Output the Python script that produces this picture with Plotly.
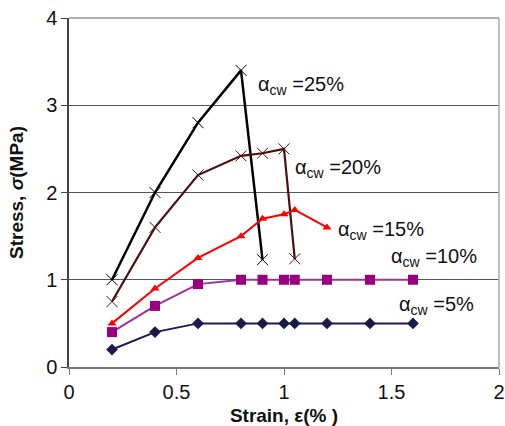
import plotly.graph_objects as go

# ---- data ----
strain_25 = [0.2, 0.4, 0.6, 0.8, 0.9]
stress_25 = [1.0, 2.0, 2.8, 3.4, 1.23]

strain_20 = [0.2, 0.4, 0.6, 0.8, 0.9, 1.0, 1.05]
stress_20 = [0.75, 1.6, 2.2, 2.42, 2.45, 2.5, 1.24]

strain_15 = [0.2, 0.4, 0.6, 0.8, 0.9, 1.0, 1.05, 1.2]
stress_15 = [0.5, 0.9, 1.25, 1.5, 1.7, 1.75, 1.8, 1.6]

strain_10 = [0.2, 0.4, 0.6, 0.8, 0.9, 1.0, 1.05, 1.2, 1.4, 1.6]
stress_10 = [0.4, 0.7, 0.95, 1.0, 1.0, 1.0, 1.0, 1.0, 1.0, 1.0]

strain_5 = [0.2, 0.4, 0.6, 0.8, 0.9, 1.0, 1.05, 1.2, 1.4, 1.6]
stress_5 = [0.2, 0.4, 0.5, 0.5, 0.5, 0.5, 0.5, 0.5, 0.5, 0.5]

series_labels = ["25%", "20%", "15%", "10%", "5%"]
x_ticks = [0, 0.5, 1, 1.5, 2]
x_tick_text = ["0", "0.5", "1", "1.5", "2"]
y_ticks = [0, 1, 2, 3, 4]

# ---- styling ----
FONT = "Liberation Sans, Arial, sans-serif"
label_pos = {"25%": (0.872, 3.23), "20%": (1.044, 2.27), "15%": (1.244, 1.57),
             "10%": (1.49, 1.25), "5%": (1.527, 0.71)}

fig = go.Figure()
fig.add_trace(go.Scatter(x=strain_25, y=stress_25, mode="lines+markers",
                         line=dict(color="#000000", width=2.5),
                         marker=dict(symbol="x-thin-open", size=11,
                                     line=dict(color="#9933CC", width=1))))
fig.add_trace(go.Scatter(x=strain_20, y=stress_20, mode="lines+markers",
                         line=dict(color="#4A1010", width=2.2),
                         marker=dict(symbol="x-thin-open", size=11,
                                     line=dict(color="#A04848", width=1))))
fig.add_trace(go.Scatter(x=strain_15, y=stress_15, mode="lines+markers",
                         line=dict(color="#FF0000", width=2),
                         marker=dict(symbol="triangle-up", size=8, color="#FF0000")))
fig.add_trace(go.Scatter(x=strain_10, y=stress_10, mode="lines+markers",
                         line=dict(color="#993399", width=2),
                         marker=dict(symbol="square", size=10, color="#990080")))
fig.add_trace(go.Scatter(x=strain_5, y=stress_5, mode="lines+markers",
                         line=dict(color="#1A1A55", width=2),
                         marker=dict(symbol="diamond", size=9, color="#1A1A4A")))

for lab in series_labels:
    x, y = label_pos[lab]
    fig.add_annotation(x=x, y=y, xref="x", yref="y", xanchor="left", yanchor="middle",
                       text="α<sub>cw</sub> =" + lab, showarrow=False,
                       font=dict(family=FONT, size=20, color="#111111"))

# top and right border of the plot area
fig.add_shape(type="line", xref="paper", yref="paper", x0=0, x1=1, y0=1, y1=1,
              line=dict(color="#666666", width=1.2))
fig.add_shape(type="line", xref="paper", yref="paper", x0=1, x1=1, y0=0, y1=1,
              line=dict(color="#AAAAAA", width=1.5))

fig.update_layout(
    width=505, height=426,
    margin=dict(l=69, r=6, t=18, b=59),
    paper_bgcolor="white", plot_bgcolor="white",
    showlegend=False,
    font=dict(family=FONT, size=20, color="#111111"),
    xaxis=dict(range=[0, 2], tickvals=x_ticks, ticktext=x_tick_text, automargin=False,
               ticklabeloverflow="allow",
               showgrid=False, zeroline=False, showline=True, linecolor="#777777", linewidth=1.5,
               ticks="outside", ticklen=6, tickcolor="#777777",
               tickfont=dict(size=20),
               title=dict(text="<b>Strain, ε(% )</b>", font=dict(size=19), standoff=7)),
    yaxis=dict(range=[0, 4], tickvals=y_ticks, showgrid=True, gridcolor="#555555", gridwidth=1.2,
               automargin=False, ticklabeloverflow="allow",
               zeroline=False, showline=True, linecolor="#444444", linewidth=1.5,
               ticks="outside", ticklen=6, tickcolor="#444444",
               tickfont=dict(size=20),
               title=dict(text="<b>Stress, <i>σ</i>(MPa)</b>", font=dict(size=19), standoff=17)),
)

# remove the page's default 8px body margin so the figure fills the window
fig.write_html("out.html", config={"displayModeBar": False},
               post_script="document.body.style.margin='0';document.body.style.overflow='hidden';")
